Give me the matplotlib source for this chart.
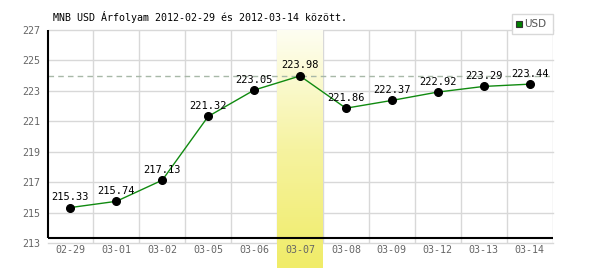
import matplotlib
matplotlib.use("Agg")
import matplotlib.pyplot as plt
import numpy as np
from matplotlib.colors import LinearSegmentedColormap

dates = ["02-29", "03-01", "03-02", "03-05", "03-06", "03-07",
         "03-08", "03-09", "03-12", "03-13", "03-14"]
values = [215.33, 215.74, 217.13, 221.32, 223.05, 223.98,
          221.86, 222.37, 222.92, 223.29, 223.44]
yticks = [213, 215, 217, 219, 221, 223, 225, 227]
highlight = "03-07"
ref_level = 224
title = "MNB USD Árfolyam 2012-02-29 és 2012-03-14 között."
series_name = "USD"

W, H = 600, 270
fig = plt.figure(figsize=(W / 100, H / 100), dpi=100)
fig.patch.set_facecolor("white")
x0, x1, yt, yb = 47.5, 552.5, 30, 243
ax = fig.add_axes([x0 / W, 1 - yb / H, (x1 - x0) / W, (yb - yt) / H])
ax.set_facecolor("white")

mono = "DejaVu Sans Mono"
grid_c = "#d8d8d8"
fs = 7.2

# grid
for v in yticks:
    ax.axhline(v, color=grid_c, lw=1, zorder=0, clip_on=False)
for i in range(len(dates)):
    ax.axvline(i + 0.5, color=grid_c, lw=1, zorder=0)

# highlight band (gradient)
hi = dates.index(highlight)
cmap = LinearSegmentedColormap.from_list("y", ["#fefef2", "#f6f3a0", "#f0ec68"])
grad = np.linspace(0, 1, 256).reshape(-1, 1)
px = (yb - yt) / (yticks[-1] - yticks[0])
band_bottom = yticks[0] - (268 - yb) / px
ax.imshow(grad, cmap=cmap, aspect="auto", origin="upper",
          extent=(hi - 0.5, hi + 0.5, band_bottom, yticks[-1]),
          zorder=0.5, clip_on=False)
ax.set_xlim(-0.5, len(dates) - 0.5)
ax.set_ylim(yticks[0], yticks[-1])

# reference dashed line
ax.axhline(ref_level, color="#a8b8a8", lw=1, ls=(0, (4, 3)), zorder=1)

# frame
for s in ax.spines.values():
    s.set_visible(False)
axis_y = yticks[0] + 5 / px
ax.plot([-0.5, len(dates) - 0.5], [axis_y, axis_y], color="black", lw=1.5,
        zorder=3, clip_on=False, solid_capstyle="butt")
ax.plot([-0.5, -0.5], [axis_y, yticks[-1]], color="black", lw=1.5,
        zorder=3, clip_on=False, solid_capstyle="butt")

# data
xs = np.arange(len(dates))
ax.plot(xs, values, color="#108a10", lw=1, zorder=4)
ax.plot(xs, values, "o", color="black", ms=5.5, zorder=5)
for x, v in zip(xs, values):
    ax.annotate(f"{v:.2f}", (x, v), xytext=(0, 4), textcoords="offset points",
                ha="center", va="bottom", fontsize=fs + 0.3, family=mono,
                color="black", zorder=6)

# ticks
ax.set_yticks(yticks)
ax.set_yticklabels([str(v) for v in yticks], family=mono, fontsize=fs,
                   color="#666666")
ax.set_xticks(xs)
ax.set_xticklabels(dates, family=mono, fontsize=fs, color="#666666")
ax.tick_params(axis="both", length=0)
ax.tick_params(axis="y", pad=5)
ax.tick_params(axis="x", pad=1.5)

# title
fig.text(53 / W, 1 - 17 / H, title, family=mono, fontsize=fs, color="black",
         ha="left", va="center")

# legend
lx0, lx1, ly0, ly1 = 512, 553, 14, 34
fig.patches.append(plt.Rectangle((lx0 / W, 1 - ly1 / H), (lx1 - lx0) / W,
                                 (ly1 - ly0) / H, transform=fig.transFigure,
                                 facecolor="white", edgecolor="#d8d8d8", lw=1))
fig.patches.append(plt.Rectangle((516 / W, 1 - 27 / H), 6 / W, 6 / H,
                                 transform=fig.transFigure,
                                 facecolor="#008000", edgecolor="#333333", lw=0.8))
fig.text(524 / W, 1 - 24 / H, series_name, fontsize=7.5, color="#555555",
         ha="left", va="center")

fig.savefig("out.png", dpi=100, facecolor="white")
